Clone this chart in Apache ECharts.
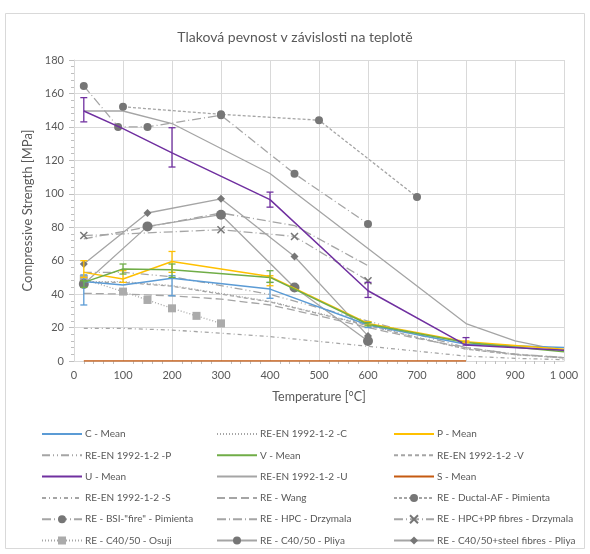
<!DOCTYPE html>
<html><head><meta charset="utf-8">
<script src="https://cdn.jsdelivr.net/npm/echarts@6/dist/echarts.min.js"></script>
<style>html,body{margin:0;padding:0;background:#fff}#c{width:590px;height:554px}</style>
</head><body><div id="c"></div>
<script>
// ---- data ----
const meanTemps = [20, 100, 200, 400, 600, 800, 1000];
const cMean = [47.5, 45.5, 49.5, 43, 21.5, 10, 8];
const cLow  = [33.5, null, 39, 37.5, 20, null, null];
const cHigh = [51.5, null, 51, 47, 23, null, null];
const pMean = [53, 49, 59.5, 50.5, 22.5, 11.5, 7];
const pLow  = [50, 47, 53, 45, 21.5, 11, null];
const pHigh = [60, 54, 65.5, 51, 23.5, 12, null];
const vMean = [47, 55, 54.5, 50, 22, 11, 5.5];
const vLow  = [44, 52, 50, 47, 21, null, null];
const vHigh = [48, 58, 58, 54, 23, null, null];
const uMean = [149.5, 139, 124.5, 96.5, 42, 9.5, 6.5];
const uLow  = [143, null, 116, 92, 38, 9.5, null];
const uHigh = [157.5, null, 139.5, 101, 47, 14, null];
const sTemps = [20, 100, 200, 400, 600, 800];
const sMean = [0, 0, 0, 0, 0, 0];

const enTemps = [20, 100, 200, 300, 400, 500, 600, 700, 800, 900, 1000];
const enC = [47.5, 47.5, 45.1, 40.4, 35.6, 28.5, 21.4, 14.3, 7.1, 3.8, 1.9];
const enP = [53, 53, 50.4, 45.1, 39.8, 31.8, 23.9, 15.9, 8.0, 4.2, 2.1];
const enV = [47, 47, 44.7, 40, 35.3, 28.2, 21.2, 14.1, 7.1, 3.8, 1.9];
const enU = [149.5, 149.5, 142, 127.1, 112.1, 89.7, 67.3, 44.9, 22.4, 12, 6];
const enS = [19.5, 19.5, 18.5, 16.6, 14.6, 11.7, 8.8, 5.9, 2.9, 1.6, 0.8];
const wang = [40.5, 40, 39, 37, 33.5, 27, 20, 13.5, 8, 4, 2];

const ductalTemps = [100, 300, 500, 700];
const ductal = [152, 147.5, 144, 98];
const bsiTemps = [20, 90, 150, 300, 450, 600];
const bsi = [164.5, 140, 140, 147, 112, 82];
const hpcTemps = [20, 300, 450, 600];
const hpc = [73, 88.5, 81, 57];
const hpcppTemps = [20, 300, 450, 600];
const hpcpp = [75, 78.5, 74.5, 48];
const osujiTemps = [20, 100, 150, 200, 250, 300];
const osuji = [49, 41.5, 36.5, 31.5, 27, 22.5];
const pliyaTemps = [20, 150, 300, 450, 600];
const pliya = [46, 80.5, 87.5, 44, 12];
const pliyaSteel = [58, 88.5, 97, 62.5, 15];

const xTicks = [0, 100, 200, 300, 400, 500, 600, 700, 800, 900, 1000];

// ---- helpers ----
const zip = (xs, ys) => xs.map((x, i) => [x, ys[i]]);
const GRAY = '#A5A5A5', MK = '#767676';
const FONT = 'Lato';
const noMarker = new Set();

function lineS(name, xs, ys, color, opts) {
  opts = opts || {};
  if (!opts.symbol) noMarker.add(name);
  return {
    name, type: 'line', data: zip(xs, ys),
    symbol: opts.symbol || 'none', symbolSize: opts.symbolSize || 6,
    showSymbol: !!opts.symbol,
    itemStyle: { color: opts.mk || color },
    lineStyle: { color, width: opts.width || 1.3, type: opts.dash || 'solid' },
    emphasis: { disabled: true }, animation: false, z: opts.z || 2
  };
}
function errS(name, xs, lo, hi, color) {
  const d = [];
  xs.forEach((x, i) => { if (lo[i] != null && hi[i] != null) d.push([x, lo[i], hi[i]]); });
  return {
    name, type: 'custom', data: d, z: 5, animation: false,
    encode: { x: 0, y: [1, 2] },
    renderItem: (p, api) => {
      const a = api.coord([api.value(0), api.value(1)]);
      const b = api.coord([api.value(0), api.value(2)]);
      const st = { stroke: color, lineWidth: 1.3 };
      return { type: 'group', children: [
        { type: 'line', shape: { x1: a[0], y1: a[1], x2: b[0], y2: b[1] }, style: st },
        { type: 'line', shape: { x1: a[0] - 3.5, y1: a[1], x2: a[0] + 3.5, y2: a[1] }, style: st },
        { type: 'line', shape: { x1: b[0] - 3.5, y1: b[1], x2: b[0] + 3.5, y2: b[1] }, style: st }
      ]};
    }
  };
}

const series = [
  lineS('C - Mean', meanTemps, cMean, '#5B9BD5', { width: 1.5, z: 4 }),
  lineS('RE-EN 1992-1-2 -C', enTemps, enC, GRAY, { dash: [1, 2] }),
  lineS('P - Mean', meanTemps, pMean, '#FFC000', { width: 1.5, z: 4 }),
  lineS('RE-EN 1992-1-2 -P', enTemps, enP, GRAY, { dash: [8, 3, 1, 3, 1, 3] }),
  lineS('V - Mean', meanTemps, vMean, '#70AD47', { width: 1.5, z: 4 }),
  lineS('RE-EN 1992-1-2 -V', enTemps, enV, GRAY, { dash: [4, 3] }),
  lineS('U - Mean', meanTemps, uMean, '#7030A0', { width: 1.5, z: 4 }),
  lineS('RE-EN 1992-1-2 -U', enTemps, enU, GRAY, {}),
  lineS('S - Mean', sTemps, sMean, '#C55A11', { width: 1.5, z: 4 }),
  lineS('RE-EN 1992-1-2 -S', enTemps, enS, GRAY, { dash: [4, 3, 1, 3] }),
  lineS('RE - Wang', enTemps, wang, GRAY, { dash: [8, 4] }),
  lineS('RE - Ductal-AF - Pimienta', ductalTemps, ductal, GRAY, { dash: [3, 2], symbol: 'circle', symbolSize: 8, mk: MK }),
  lineS('RE - BSI-"fire" - Pimienta', bsiTemps, bsi, GRAY, { dash: [9, 3, 1, 3], symbol: 'circle', symbolSize: 8, mk: MK }),
  lineS('RE - HPC - Drzymala', hpcTemps, hpc, GRAY, { dash: [9, 3, 1, 3] }),
  lineS('RE - HPC+PP fibres - Drzymala', hpcppTemps, hpcpp, GRAY, { dash: [9, 3, 1, 3], symbol: 'path://M0,0L10,10M10,0L0,10', symbolSize: 7, mk: MK }),
  lineS('RE - C40/50 - Osuji', osujiTemps, osuji, GRAY, { dash: [1, 2], symbol: 'rect', symbolSize: 8, mk: '#ABABAB' }),
  lineS('RE - C40/50 - Pliya', pliyaTemps, pliya, GRAY, { symbol: 'circle', symbolSize: 10, mk: MK }),
  lineS('RE - C40/50+steel fibres - Pliya', pliyaTemps, pliyaSteel, GRAY, { symbol: 'diamond', symbolSize: 8, mk: MK }),
  errS('errC', meanTemps, cLow, cHigh, '#5B9BD5'),
  errS('errP', meanTemps, pLow, pHigh, '#FFC000'),
  errS('errV', meanTemps, vLow, vHigh, '#70AD47'),
  errS('errU', meanTemps, uLow, uHigh, '#7030A0')
];
// X markers need stroke
series[14].itemStyle = { color: MK, borderColor: MK, borderWidth: 1.5 };

const legendCols = [
  ['C - Mean', 'RE-EN 1992-1-2 -P', 'U - Mean', 'RE-EN 1992-1-2 -S', 'RE - BSI-"fire" - Pimienta', 'RE - C40/50 - Osuji'],
  ['RE-EN 1992-1-2 -C', 'V - Mean', 'RE-EN 1992-1-2 -U', 'RE - Wang', 'RE - HPC - Drzymala', 'RE - C40/50 - Pliya'],
  ['P - Mean', 'RE-EN 1992-1-2 -V', 'S - Mean', 'RE - Ductal-AF - Pimienta', 'RE - HPC+PP fibres - Drzymala', 'RE - C40/50+steel fibres - Pliya']
];
const legendLeft = [41, 216, 393];
const legends = legendCols.map((d, i) => ({
  data: d.map(n => noMarker.has(n) ? { name: n, itemStyle: { opacity: 0 } } : { name: n }),
  orient: 'vertical', left: legendLeft[i], top: 429,
  itemWidth: 40, itemHeight: 10, itemGap: 11.3, selectedMode: false,
  textStyle: { fontFamily: FONT, fontSize: 10, color: '#595959', padding: [0, 0, 0, -2] },
  padding: 0
}));

const chart = echarts.init(document.getElementById('c'), null, { renderer: 'canvas' });
chart.setOption({
  backgroundColor: '#fff',
  animation: false,
  title: {
    text: 'Tlaková pevnost v závislosti na teplotě', left: 'center', top: 25,
    textStyle: { fontFamily: FONT, fontSize: 14, fontWeight: 'normal', color: '#595959' }
  },
  graphic: [{ type: 'rect', shape: { x: 5.5, y: 13.5, width: 579, height: 535 },
    style: { fill: 'none', stroke: '#D9D9D9', lineWidth: 1 }, silent: true, z: -1 }],
  legend: legends,
  grid: { left: 74, top: 60, width: 490, height: 301, containLabel: false },
  xAxis: {
    type: 'value', min: 0, max: 1000, interval: 100,
    name: 'Temperature [°C]', nameLocation: 'middle', nameGap: 29,
    nameTextStyle: { fontFamily: FONT, fontSize: 12.5, color: '#595959' },
    axisLine: { show: true, lineStyle: { color: '#D9D9D9' } },
    axisTick: { show: false },
    minorTick: { show: true, splitNumber: 5, length: 3, lineStyle: { color: '#BFBFBF' } },
    splitLine: { show: true, lineStyle: { color: '#D9D9D9', width: 1 } },
    axisLabel: { fontFamily: FONT, fontSize: 11, color: '#595959', margin: 9,
      formatter: v => xTicks.includes(v) ? (v >= 1000 ? String(v).replace(/\B(?=(\d{3})+(?!\d))/g, ' ') : String(v)) : '' }
  },
  yAxis: {
    type: 'value', min: 0, max: 180, interval: 20,
    name: 'Compressive Strength [MPa]', nameLocation: 'middle', nameGap: 37,
    nameTextStyle: { fontFamily: FONT, fontSize: 13, color: '#595959' },
    axisLine: { show: true, lineStyle: { color: '#D9D9D9' } },
    axisTick: { show: true, length: 5, lineStyle: { color: '#BFBFBF' } },
    minorTick: { show: true, splitNumber: 5, length: 3, lineStyle: { color: '#BFBFBF' } },
    splitLine: { show: true, lineStyle: { color: '#D9D9D9', width: 1 } },
    axisLabel: { fontFamily: FONT, fontSize: 11, color: '#595959', margin: 10 }
  },
  series
});
</script></body></html>
